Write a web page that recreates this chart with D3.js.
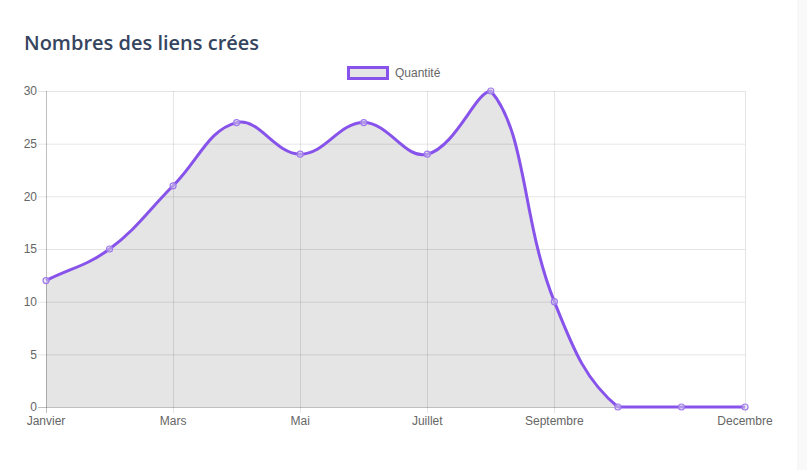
<!DOCTYPE html>
<html><head><meta charset="utf-8">
<script src="https://cdn.jsdelivr.net/npm/d3@7"></script>
<style>
html,body{margin:0;padding:0;background:#f9f9fa;}
svg{display:block;}
</style></head>
<body>
<svg id="c" width="807" height="470"></svg>
<script>
const months = ["Janvier","Février","Mars","Avril","Mai","Juin","Juillet","Août","Septembre","Octobre","Novembre","Decembre"];
const shownLabels = ["Janvier","Mars","Mai","Juillet","Septembre","Decembre"];
const quantite = [12,15,21,27,24,27,24,30,10,0,0,0];
const yTicks = [0,5,10,15,20,25,30];
const seriesName = "Quantité";
const title = "Nombres des liens crées";

const svg = d3.select("#c");
// card
svg.append("rect").attr("x",-20).attr("y",-14).attr("width",818).attr("height",520)
  .attr("rx",14).attr("fill","#fff").attr("stroke","#f0f1f3");

const L=46,R=745,T=91,B=407;
const x = d3.scalePoint().domain(months).range([L,R]);
const y = d3.scaleLinear().domain([0,30]).range([B,T]);

svg.append("text").attr("x",24).attr("y",50).text(title)
  .attr("font-family","'Open Sans',sans-serif").attr("font-size",20).attr("font-weight",600)
  .attr("fill","#36455f");

const g = svg.append("g");
g.selectAll(".hg").data(yTicks).join("line")
  .attr("x1",L-8).attr("x2",R).attr("y1",d=>y(d)+0.5).attr("y2",d=>y(d)+0.5)
  .attr("stroke",d=>d===0?"rgba(0,0,0,0.25)":"rgba(0,0,0,0.1)");
g.selectAll(".vg").data(shownLabels).join("line")
  .attr("x1",d=>Math.round(x(d))+0.5).attr("x2",d=>Math.round(x(d))+0.5).attr("y1",T).attr("y2",B+6)
  .attr("stroke",d=>d==="Janvier"?"rgba(0,0,0,0.25)":"rgba(0,0,0,0.1)");

g.selectAll(".yl").data(yTicks).join("text")
  .attr("x",L-9).attr("y",d=>y(d)).attr("dy","0.35em").attr("text-anchor","end")
  .attr("font-family","'Liberation Sans',Arial,sans-serif").attr("font-size",12).attr("fill","#666")
  .text(d=>d);
g.selectAll(".xl").data(shownLabels).join("text")
  .attr("x",d=>x(d)).attr("y",B+18).attr("text-anchor","middle")
  .attr("font-family","'Liberation Sans',Arial,sans-serif").attr("font-size",12).attr("fill","#666")
  .text(d=>d);

// Chart.js-style spline
const pts = quantite.map((v,i)=>({x:x(months[i]),y:y(v)}));
const t=0.4;
const cps = pts.map((p,i)=>{
  const prev = pts[Math.max(0,i-1)], next = pts[Math.min(pts.length-1,i+1)];
  const d01 = Math.hypot(p.x-prev.x,p.y-prev.y), d12=Math.hypot(next.x-p.x,next.y-p.y);
  let s01 = d01/(d01+d12), s12 = d12/(d01+d12);
  if(isNaN(s01)) s01=0; if(isNaN(s12)) s12=0;
  const fa=t*s01, fb=t*s12;
  const cap=(c)=>({x:Math.max(L,Math.min(R,c.x)),y:Math.max(T,Math.min(B,c.y))});
  return {
    prev: cap({x:p.x-fa*(next.x-prev.x), y:p.y-fa*(next.y-prev.y)}),
    next: cap({x:p.x+fb*(next.x-prev.x), y:p.y+fb*(next.y-prev.y)})
  };
});
const path = d3.path();
path.moveTo(pts[0].x,pts[0].y);
for(let i=1;i<pts.length;i++){
  path.bezierCurveTo(cps[i-1].next.x,cps[i-1].next.y,cps[i].prev.x,cps[i].prev.y,pts[i].x,pts[i].y);
}
const lineD = path.toString();
const areaD = lineD + `L${pts[pts.length-1].x},${y(0)}L${pts[0].x},${y(0)}Z`;
g.append("path").attr("d",areaD).attr("fill","rgba(0,0,0,0.1)");
g.append("path").attr("d",lineD).attr("fill","none").attr("stroke","#8753ea").attr("stroke-width",3);
g.selectAll(".pt").data(quantite).join("circle")
  .attr("cx",(d,i)=>x(months[i])).attr("cy",d=>y(d)).attr("r",3)
  .attr("fill","rgba(220,220,230,0.5)").attr("stroke","#a078ee").attr("stroke-width",1.2);

const lg = svg.append("g");
lg.append("rect").attr("x",348.5).attr("y",67.5).attr("width",39).attr("height",11)
  .attr("fill","#e5e5e5").attr("stroke","#8753ea").attr("stroke-width",3);
lg.append("text").attr("x",395).attr("y",73).attr("dy","0.35em")
  .attr("font-family","'Liberation Sans',Arial,sans-serif").attr("font-size",12).attr("fill","#666")
  .text(seriesName);
</script>
</body></html>
